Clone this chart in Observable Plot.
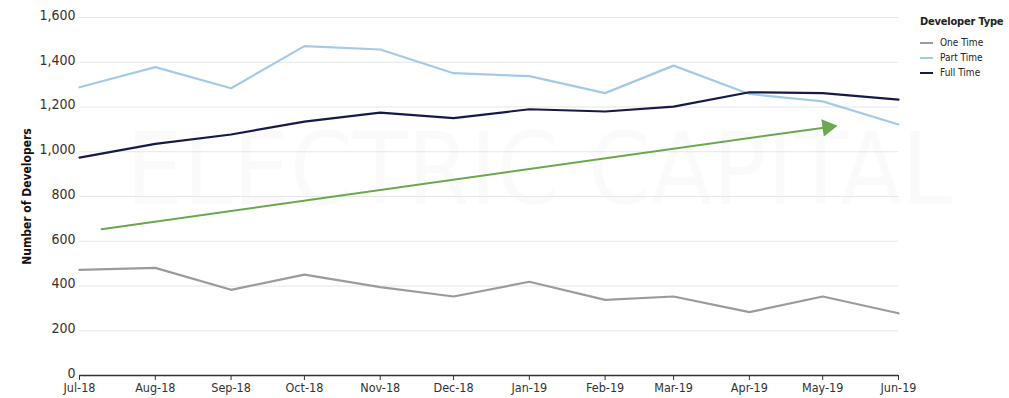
<!DOCTYPE html>
<html>
<head>
<meta charset="utf-8">
<script src="https://cdn.jsdelivr.net/npm/d3@7"></script>
<script src="https://cdn.jsdelivr.net/npm/@observablehq/plot@0.6"></script>
<style>
  html, body { margin: 0; padding: 0; background: #fff; }
  #wrap { position: relative; width: 1009px; height: 398px; }
  #legend { position: absolute; left: 920px; top: 15px; font-family: "DejaVu Sans Condensed", "DejaVu Sans", sans-serif; font-stretch: condensed; color: #222; white-space: nowrap; }
  #legend .title { font-weight: bold; font-size: 11px; margin-bottom: 7px; letter-spacing: -0.2px; }
  #legend .item { display: flex; align-items: center; font-size: 10px; height: 15px; }
  #legend .sw { width: 13px; height: 0; border-top: 2px solid; margin-right: 7px; }
  svg text { font-stretch: condensed; }
</style>
</head>
<body>
<div id="wrap"></div>
<script>
const months = ["2018-07-01","2018-08-01","2018-09-01","2018-10-01","2018-11-01","2018-12-01",
                "2019-01-01","2019-02-01","2019-03-01","2019-04-01","2019-05-01","2019-06-01"];
const seriesNames = ["One Time", "Part Time", "Full Time"];
const seriesColors = ["#9b9b9b", "#a3cbe8", "#141a4a"];
const oneTime  = [472, 481, 383, 451, 395, 353, 419, 338, 353, 283, 353, 278];
const partTime = [1288, 1378, 1284, 1472, 1457, 1351, 1338, 1262, 1385, 1258, 1225, 1122];
const fullTime = [974, 1035, 1077, 1135, 1175, 1150, 1190, 1180, 1202, 1266, 1262, 1233];
const trendDates = ["2018-07-10", "2019-05-03"];
const trendValues = [654, 1110];
const yTicks = [0, 200, 400, 600, 800, 1000, 1200, 1400, 1600];

const parse = d3.utcParse("%Y-%m-%d");
const seriesValues = [oneTime, partTime, fullTime];
const data = [];
seriesNames.forEach((name, i) => {
  months.forEach((m, j) => data.push({series: name, date: parse(m), value: seriesValues[i][j]}));
});
const trend = trendDates.map((d, i) => ({date: parse(d), value: trendValues[i]}));
const fontFam = "'DejaVu Sans Condensed', 'DejaVu Sans', sans-serif";

const chart = Plot.plot({
  width: 1009,
  height: 398,
  marginLeft: 79,
  marginRight: 111,
  marginTop: 17,
  marginBottom: 23,
  style: {fontFamily: fontFam, fontSize: "13px", color: "#333", background: "transparent", overflow: "visible"},
  x: {type: "utc", domain: [parse(months[0]), parse(months[months.length - 1])], label: null},
  y: {domain: [0, 1600], label: null},
  color: {domain: seriesNames, range: seriesColors},
  marks: [
    Plot.text(["ELECTRIC CAPITAL"], {frameAnchor: "middle", dx: 50, dy: -25, fontSize: 100, fontWeight: "normal", fill: "#000", fillOpacity: 0.02, fontFamily: "'DejaVu Sans', sans-serif"}),
    Plot.gridY(yTicks.filter(d => d > 0), {stroke: "#e6e6e6", strokeOpacity: 1, strokeWidth: 1}),
    Plot.axisY({ticks: yTicks, tickFormat: d3.format(","), tickSize: 0, tickPadding: 4, fontSize: 14, fill: "#333", label: null, dy: -2}),
    Plot.axisX({ticks: months.map(parse), tickFormat: d3.utcFormat("%b-%y"), tickSize: 5, tickPadding: 3, fontSize: 12.5, fill: "#333", label: null}),
    Plot.ruleY([0], {stroke: "#333", strokeWidth: 1.5}),
    Plot.line(data, {x: "date", y: "value", z: "series", stroke: "series", strokeWidth: 2.2, curve: "linear"}),
    Plot.line(trend, {x: "date", y: "value", stroke: "#6aa84f", strokeWidth: 2}),
    Plot.dot([trend[1]], {x: "date", y: "value", symbol: "triangle", r: 6.5, fill: "#6aa84f", stroke: "none", rotate: 82}),
    Plot.text(["Number of Developers"], {frameAnchor: "left", textAnchor: "middle", dx: -52, rotate: -90, fontSize: 12, fontWeight: "bold", fill: "#111"})
  ]
});
document.getElementById("wrap").appendChild(chart);

const legend = document.createElement("div");
legend.id = "legend";
legend.innerHTML = '<div class="title">Developer Type</div>' +
  seriesNames.map((n, i) => `<div class="item"><span class="sw" style="border-color:${seriesColors[i]}"></span>${n}</div>`).join("");
document.getElementById("wrap").appendChild(legend);
</script>
</body>
</html>
